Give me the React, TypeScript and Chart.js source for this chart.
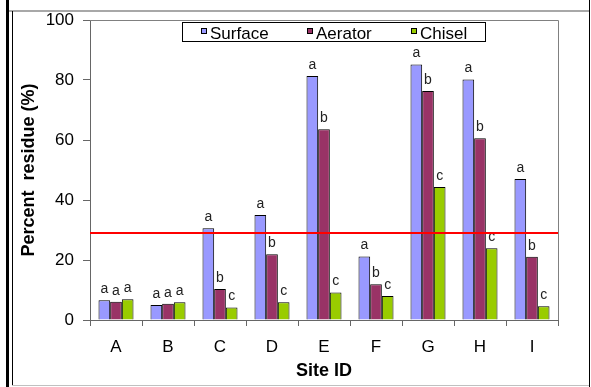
import React, { useEffect, useRef } from 'react';
import { Chart, registerables } from 'chart.js';

Chart.register(...registerables);

const categories = ['A', 'B', 'C', 'D', 'E', 'F', 'G', 'H', 'I'];
const surface = [6.6, 5.0, 30.6, 35.0, 81.3, 21.2, 85.2, 80.2, 47.0];
const aerator = [6.1, 5.4, 10.3, 21.9, 63.6, 11.9, 76.3, 60.6, 21.1];
const chisel = [6.9, 5.9, 4.2, 5.9, 9.2, 8.0, 44.3, 23.9, 4.6];
const surfaceLetters = ['a', 'a', 'a', 'a', 'a', 'a', 'a', 'a', 'a'];
const aeratorLetters = ['a', 'a', 'b', 'b', 'b', 'b', 'b', 'b', 'b'];
const chiselLetters = ['a', 'a', 'c', 'c', 'c', 'c', 'c', 'c', 'c'];
const seriesNames = ['Surface', 'Aerator', 'Chisel'];
const threshold = 29;
const yMin = 0;
const yMax = 100;
const yStep = 20;
const xTitle = 'Site ID';
const yTitle = 'Percent  residue (%)';

const FAMILY = '"Liberation Sans", Arial, Helvetica, sans-serif';
const COLORS = ['#9999FF', '#993366', '#99CC00'];
const LETTERS = [surfaceLetters, aeratorLetters, chiselLetters];

const overlayPlugin = {
  id: 'overlay',
  afterDatasetsDraw(chart: any) {
    const { ctx, chartArea: ca, scales } = chart;
    ctx.save();
    // significance letters
    ctx.font = `14px ${FAMILY}`;
    ctx.fillStyle = '#222';
    ctx.textAlign = 'center';
    ctx.textBaseline = 'alphabetic';
    chart.data.datasets.forEach((ds: any, i: number) => {
      const meta = chart.getDatasetMeta(i);
      meta.data.forEach((el: any, j: number) => {
        ctx.fillText(LETTERS[i][j], el.x, el.y - 7);
      });
    });
    // threshold line
    const y = Math.round(scales.y.getPixelForValue(threshold));
    ctx.strokeStyle = '#FF0000';
    ctx.lineWidth = 2;
    ctx.beginPath();
    ctx.moveTo(ca.left, y);
    ctx.lineTo(ca.right, y);
    ctx.stroke();
    // plot frame top/right
    ctx.strokeStyle = '#808080';
    ctx.lineWidth = 1;
    ctx.beginPath();
    ctx.moveTo(ca.left, Math.round(ca.top) + 0.5);
    ctx.lineTo(Math.round(ca.right) + 0.5, Math.round(ca.top) + 0.5);
    ctx.lineTo(Math.round(ca.right) + 0.5, ca.bottom);
    ctx.stroke();
    // y axis title
    ctx.save();
    ctx.translate(29, (ca.top + ca.bottom) / 2);
    ctx.rotate(-Math.PI / 2);
    ctx.font = `bold 18px ${FAMILY}`;
    ctx.fillStyle = '#000';
    ctx.textAlign = 'center';
    ctx.textBaseline = 'middle';
    ctx.fillText(yTitle, 0, 0);
    ctx.restore();
    // legend
    const bx = 182, by = 22, bw = 303, bh = 19;
    ctx.fillStyle = '#fff';
    ctx.fillRect(bx, by, bw, bh);
    ctx.strokeStyle = '#000';
    ctx.strokeRect(bx + 0.5, by + 0.5, bw, bh);
    const itemX = [201, 307, 411];
    ctx.font = `17px ${FAMILY}`;
    ctx.textAlign = 'left';
    ctx.textBaseline = 'alphabetic';
    chart.data.datasets.forEach((ds: any, i: number) => {
      const x = itemX[i];
      ctx.fillStyle = ds.backgroundColor;
      ctx.fillRect(x, 28, 6, 6);
      ctx.strokeStyle = '#000';
      ctx.strokeRect(x + 0.5, 28.5, 5, 5);
      ctx.fillStyle = '#000';
      ctx.fillText(ds.label, x + 9, 39);
    });
    ctx.restore();
  },
};

function ChartView() {
  const ref = useRef<HTMLCanvasElement | null>(null);
  useEffect(() => {
    if (!ref.current) return;
    const seriesData = [surface, aerator, chisel];
    const chart = new Chart(ref.current, {
      type: 'bar',
      data: {
        labels: categories,
        datasets: seriesNames.map((name, i) => ({
          label: name,
          data: seriesData[i],
          backgroundColor: COLORS[i],
          borderColor: '#000',
          borderWidth: 1,
          barPercentage: 1,
          categoryPercentage: 0.673,
        })),
      },
      options: {
        responsive: false,
        maintainAspectRatio: false,
        animation: false,
        layout: { padding: { left: 0, top: 20, right: 33, bottom: 0 } },
        plugins: {
          legend: { display: false },
          tooltip: { enabled: false },
        },
        scales: {
          x: {
            ticks: { font: { size: 17, family: FAMILY }, color: '#000', padding: 11 },
            grid: { drawOnChartArea: false, tickLength: 6, color: '#666', offset: true },
            border: { color: '#666' },
            title: {
              display: true,
              text: xTitle,
              font: { size: 18, weight: 'bold', family: FAMILY },
              color: '#000',
              padding: { top: 0, bottom: 5 },
            },
            afterFit: (s: any) => { s.height = 67; },
          },
          y: {
            min: yMin,
            max: yMax,
            ticks: { stepSize: yStep, font: { size: 17, family: FAMILY }, color: '#000', padding: 9 },
            grid: { drawOnChartArea: false, tickLength: 7, color: '#666' },
            border: { color: '#666' },
            title: { display: false },
            afterFit: (s: any) => { s.width = 90; },
          },
        },
      } as any,
      plugins: [overlayPlugin],
    });
    return () => chart.destroy();
  }, []);
  return <canvas ref={ref} width={591} height={387} style={{ position: 'absolute', left: 0, top: 0, width: 591, height: 387 }} />;
}

export default function App() {
  const box = (s: React.CSSProperties) => <div style={{ position: 'absolute', ...s }} />;
  return (
    <div style={{ position: 'absolute', left: 0, top: 0, width: 591, height: 387, background: '#fff', overflow: 'hidden' }}>
      <ChartView />
      {box({ left: 6, top: 0, width: 3, height: 387, background: '#000' })}
      {box({ left: 9, top: 10, width: 580, height: 2, background: '#a8a8a8' })}
      {box({ left: 12, top: 11, width: 1, height: 375, background: '#000' })}
      {box({ left: 12, top: 385, width: 577, height: 1, background: '#c0c0c0' })}
      {box({ left: 589, top: 0, width: 1, height: 387, background: '#000' })}
    </div>
  );
}
